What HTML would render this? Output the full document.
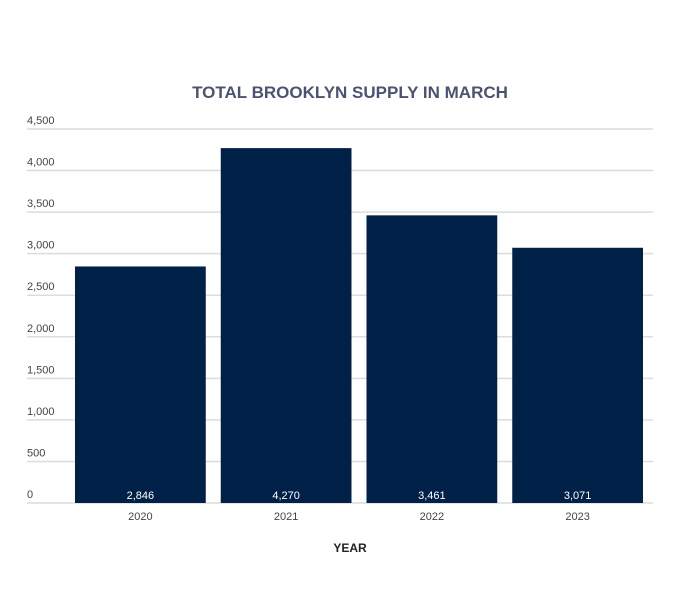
<!DOCTYPE html>
<html><head><meta charset="utf-8"><style>
body{margin:0;background:#fff;width:700px;height:610px;overflow:hidden;font-family:"Liberation Sans",sans-serif}
</style></head><body>
<svg width="700" height="610">
<text x="350" y="98" text-anchor="middle" font-size="17" font-weight="bold" fill="#4b5272">TOTAL BROOKLYN SUPPLY IN MARCH</text>
<g id="grid"></g><g id="bars"></g><g id="xl"></g>
<text x="350" y="552" text-anchor="middle" font-size="12" font-weight="bold" fill="#222">YEAR</text>
</svg>
<script>
const categories=["2020","2021","2022","2023"];
const values=[2846,4270,3461,3071];
const valueLabels=["2,846","4,270","3,461","3,071"];
const ticks=[0,500,1000,1500,2000,2500,3000,3500,4000,4500];
const tickLabels=["0","500","1,000","1,500","2,000","2,500","3,000","3,500","4,000","4,500"];
const NS="http://www.w3.org/2000/svg";
const y0=503,y1=129,xL=70,xR=653,gx0=27;
const y=v=>y0-(v/4500)*(y0-y1);
const bw=(xR-xL)/categories.length;
const x=i=>xL+i*bw;
function mk(t,a,p){const e=document.createElementNS(NS,t);for(const k in a)e.setAttribute(k,a[k]);p.appendChild(e);return e;}
const g=document.getElementById('grid');
ticks.forEach((t,i)=>{
 const l=mk('line',{x1:gx0,x2:xR,y1:y(t),y2:y(t),stroke:'#dcdcdc','stroke-width':1.5},g);
 
 
 const tx=mk('text',{x:gx0,y:y(t)-5,'font-size':11,fill:'#444'},g);
 tx.textContent=tickLabels[i];
 
 
});
const b=document.getElementById('bars'),xl=document.getElementById('xl');
categories.forEach((c,i)=>{
 const r=mk('rect',{x:x(i)+5,y:y(values[i]),width:bw-15,height:y0-y(values[i]),fill:'#002147'},b);
 
 
 const cx=x(i)+5+(bw-15)/2;
 const v=mk('text',{x:cx,y:y0-4,'text-anchor':'middle','font-size':11,fill:'#fff'},b);
 v.textContent=valueLabels[i];
 
 
 const t=mk('text',{x:cx,y:520,'text-anchor':'middle','font-size':11,fill:'#444'},xl);
 t.textContent=c;
 
 
});
</script>
</body></html>
